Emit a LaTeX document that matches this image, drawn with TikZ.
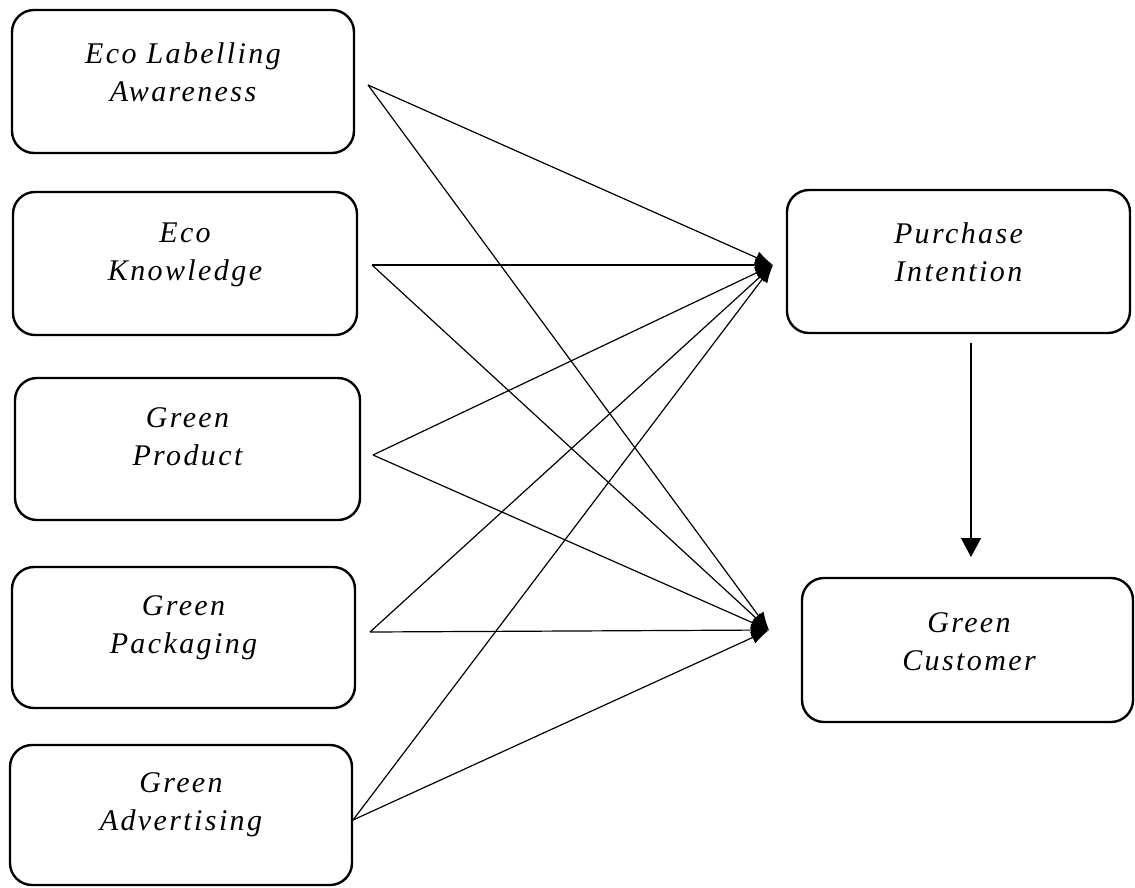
\documentclass[tikz,border=0pt]{standalone}
\usepackage{fontspec}
\setmainfont{Liberation Serif}[LetterSpace=8]
\usetikzlibrary{arrows.meta}
\tikzset{
  box/.style={draw, line width=2.4pt, rounded corners=22pt, inner sep=0pt, fill=none},
  lbl/.style={font=\fontsize{30pt}{38pt}\selectfont\itshape, align=center, inner sep=0pt, anchor=center},
  link/.style={line width=1.2pt, -{Latex[length=18pt,width=13pt]}},
  flow/.style={line width=1.3pt, -{Triangle[length=19pt,width=20pt]}}
}
\begin{document}
\begin{tikzpicture}[x=1pt,y=-1pt]
\useasboundingbox (0,0) rectangle (1135,887);

% left boxes
\node[box, minimum width=342pt, minimum height=143pt] (b1) at (183,81.5) {};
\node[box, minimum width=344pt, minimum height=143pt] (b2) at (185,263.5) {};
\node[box, minimum width=345pt, minimum height=142pt] (b3) at (187.5,449) {};
\node[box, minimum width=343pt, minimum height=141pt] (b4) at (183.5,637.5) {};
\node[box, minimum width=342pt, minimum height=140pt] (b5) at (181,815) {};
% right boxes
\node[box, minimum width=343pt, minimum height=143pt] (pi) at (958.5,261.5) {};
\node[box, minimum width=331pt, minimum height=144pt] (gc) at (967.5,650) {};

% labels
\node[lbl] (l1) at (183,74.4) {\strut Eco Labelling\\\strut Awareness};
\node[lbl] (l2) at (185,253.4) {\strut Eco\\\strut Knowledge};
\node[lbl] (l3) at (187.5,438.4) {\strut Green\\\strut Product};
\node[lbl] (l4) at (183.5,626.4) {\strut Green\\\strut Packaging};
\node[lbl] (l5) at (181,803.4) {\strut Green\\\strut Advertising};
\node[lbl] (lp) at (958.5,254.4) {\strut Purchase\\\strut Intention};
\node[lbl] (lg) at (969,643.4) {\strut Green\\\strut Customer};

% connector ends
\coordinate (s1) at (368,85);
\coordinate (s2) at (372,265);
\coordinate (s3) at (373,455);
\coordinate (s4) at (370,632);
\coordinate (s5) at (353,820);
\coordinate (t1) at (773,265);
\coordinate (t2) at (769,630);

\foreach \s in {s1,s2,s3,s4,s5}{
  \draw[link] (\s) -- (t1);
  \draw[link] (\s) -- (t2);
}

\coordinate (va) at (971,343);
\coordinate (vb) at (971,557);
\draw[flow] (va) -- (vb);
\end{tikzpicture}
\end{document}
